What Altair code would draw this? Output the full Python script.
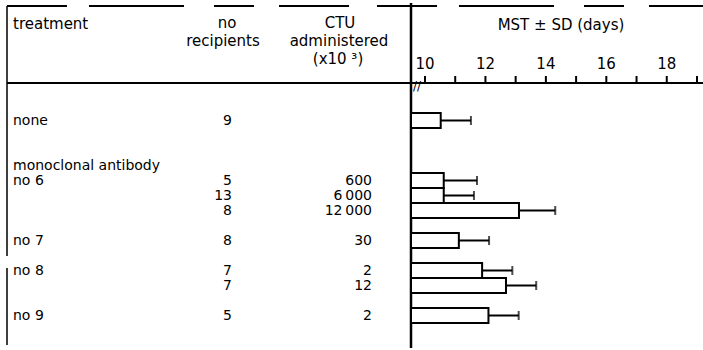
import altair as alt
import pandas as pd

# Mean survival time (days) of recipients per treatment
row_keys   = ["none", "6a", "6b", "6c", "7", "8a", "8b", "9"]
treatment  = ["none", "no 6", "", "", "no 7", "no 8", "", "no 9"]
recipients = [9, 5, 13, 8, 8, 7, 7, 5]
ctu        = [None, 600, 6000, 12000, 30, 2, 12, 2]
mst        = [10.52, 10.62, 10.62, 13.11, 11.12, 11.89, 12.68, 12.10]
sd         = [1.0, 1.1, 1.0, 1.2, 1.0, 1.0, 1.0, 1.0]

# table rows top to bottom, with blank spacer rows and the group heading row
row_order = ["none", "s1", "s2", "mab", "6a", "6b", "6c", "s3",
             "7", "s4", "8a", "8b", "s5", "9"]
group_heading = "monoclonal antibody"

tick_values = list(range(10, 20))
tick_labels = [10, 12, 14, 16, 18]

W, H = 703, 350
FONT = "DejaVu Sans"
FS = 15        # header text
FS_ROW = 14    # table body text (rows are 15 px apart)

# x scale: day 10 sits at 425 px, ~30.2 px per day, spanning the full width
PX10, PXD = 425, 30.22
x_dom = [10 - PX10 / PXD, 10 + (W - PX10) / PXD]
AXIS_X = 411                           # broken-axis origin, px
AXIS_DAY = 10 - (PX10 - AXIS_X) / PXD  # same origin on the day scale

def fmt_ctu(v):
    if v is None:
        return ""
    return f"{v:,}".replace(",", "\u2009")

df = pd.DataFrame({
    "row": row_keys,
    "treatment": treatment,
    "n": [str(v) for v in recipients],
    "ctu": [fmt_ctu(v) for v in ctu],
    "mst": mst,
    "sd": sd,
})
df["hi"] = df["mst"] + df["sd"]

xs = alt.Scale(domain=x_dom, range=[0, W], zero=False, nice=False)
ys = alt.Scale(domain=row_order, range=[113, 323], paddingInner=0, paddingOuter=0)

base = alt.Chart(df)
X = lambda f: alt.X(f, type="quantitative", scale=xs, axis=None)
Y = alt.Y("row:N", scale=ys, axis=None)

bars = base.mark_bar(fill="white", stroke="black", strokeWidth=2).encode(
    x=X("mst"), x2=alt.datum(AXIS_DAY), y=Y)
err = base.mark_rule(color="black", strokeWidth=2).encode(
    x=X("mst"), x2="hi", y=Y)
caps = base.mark_tick(color="black", orient="vertical", size=9, thickness=2).encode(
    x=X("hi"), y=Y)

txt = dict(font=FONT, fontSize=FS_ROW, color="black", baseline="middle")
col_treat = base.mark_text(align="left", **txt).encode(
    x=alt.value(13), y=Y, text="treatment:N")
col_n = base.mark_text(align="right", **txt).encode(
    x=alt.value(232), y=Y, text="n:N")
col_ctu = base.mark_text(align="right", **txt).encode(
    x=alt.value(372), y=Y, text="ctu:N")
heading = alt.Chart(pd.DataFrame({"row": ["mab"], "t": [group_heading]})).mark_text(
    align="left", **txt).encode(x=alt.value(13), y=Y, text="t:N")

one = pd.DataFrame({"k": [0]})

def label(s, x, y, align="center", size=FS):
    return alt.Chart(one).mark_text(
        font=FONT, fontSize=size, color="black", align=align, baseline="alphabetic"
    ).encode(x=alt.value(x), y=alt.value(y), text=alt.value(s))

def line(x, x2, y, y2, width=2, dash=None):
    kw = dict(color="black", strokeWidth=width)
    if dash:
        kw["strokeDash"] = dash
    return alt.Chart(one).mark_rule(**kw).encode(
        x=alt.value(x), x2=alt.value(x2), y=alt.value(y), y2=alt.value(y2))

headers = [
    label("treatment", 13, 29, "left"),
    label("no", 227, 28),
    label("recipients", 223, 46),
    label("CTU", 340, 28),
    label("administered", 339, 46),
    label("(x10 \u00b3)", 338, 64),
    label("MST \u00b1 SD (days)", 561, 30),
]

frame = [
    line(7, W, 6, 6, 1.8, [60, 22, 95, 30, 40, 25, 70, 28]),
    line(7, 7, 6, 345, 1.5, [250, 12, 90]),
    line(7, W, 83, 83, 2),
    line(AXIS_X, AXIS_X, 3, 348, 2.5),
]

ticks = alt.Chart(pd.DataFrame({"v": tick_values})).mark_rule(
    color="black", strokeWidth=2).encode(
    x=X("v"), y=alt.value(76), y2=alt.value(83))
tick_text = alt.Chart(pd.DataFrame({"v": tick_labels})).mark_text(
    font=FONT, fontSize=FS, color="black", baseline="alphabetic").encode(
    x=X("v"), y=alt.value(69), text="v:Q")
brk = label("//", 417, 90, "center", 12)

chart = alt.layer(
    *frame, ticks, tick_text, brk, *headers,
    bars, err, caps, col_treat, col_n, col_ctu, heading,
).properties(
    width=W, height=H, padding=0,
    autosize=alt.AutoSizeParams(type="none"),
    background="white",
).configure_view(stroke=None)

chart.save("out.html", embed_options={"renderer": "svg", "actions": False})
